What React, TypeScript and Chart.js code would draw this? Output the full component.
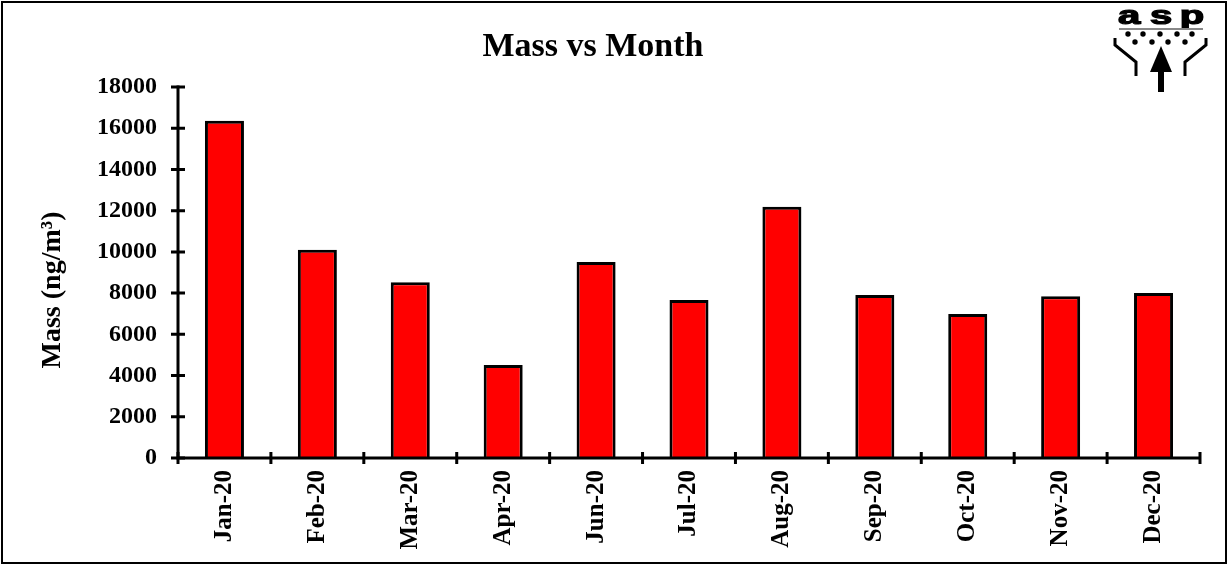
import React, { useEffect, useRef } from "react";
import { Chart, registerables } from "chart.js";

Chart.register(...registerables);

const months = ["Jan-20", "Feb-20", "Mar-20", "Apr-20", "Jun-20", "Jul-20", "Aug-20", "Sep-20", "Oct-20", "Nov-20", "Dec-20"];
const massValues = [16360, 10100, 8530, 4510, 9510, 7660, 12190, 7910, 6990, 7850, 8010];
const yTicks = [0, 2000, 4000, 6000, 8000, 10000, 12000, 14000, 16000, 18000];
const chartTitle = "Mass vs Month";
const yAxisTitle = "Mass (ng/m³)";
const logoText = ["a", "s", "p"];

const FONT = "'Liberation Serif', 'Times New Roman', serif";

const decorPlugin = {
  id: "decor",
  afterDatasetsDraw(chart: any) {
    const ctx = chart.ctx as CanvasRenderingContext2D;
    const area = chart.chartArea;
    const xs = chart.scales.x;
    const ys = chart.scales.y;
    ctx.save();
    ctx.strokeStyle = "#000";
    ctx.fillStyle = "#000";
    ctx.lineCap = "butt";
    // axes
    ctx.lineWidth = 3;
    const yTop = ys.getPixelForValue(yTicks[yTicks.length - 1]);
    const yBot = ys.getPixelForValue(0);
    ctx.beginPath();
    ctx.moveTo(area.left, yTop - 1.5);
    ctx.lineTo(area.left, yBot + 1.5);
    ctx.moveTo(area.left - 1.5, yBot);
    ctx.lineTo(area.right, yBot);
    ctx.stroke();
    // y ticks
    ctx.beginPath();
    yTicks.forEach((v) => {
      const y = ys.getPixelForValue(v);
      ctx.moveTo(area.left - 7, y);
      ctx.lineTo(area.left + 7, y);
    });
    // x ticks at boundaries
    for (let i = 0; i <= months.length; i++) {
      const x = xs.getPixelForValue(i - 0.5);
      ctx.moveTo(x, yBot - 6);
      ctx.lineTo(x, yBot + 6);
    }
    ctx.stroke();

    // title
    ctx.font = `bold 34px ${FONT}`;
    ctx.textAlign = "center";
    ctx.textBaseline = "middle";
    ctx.fillText(chartTitle, 593, 47);

    // y axis title
    ctx.save();
    ctx.translate(53, 290);
    ctx.rotate(-Math.PI / 2);
    ctx.font = `bold 28px ${FONT}`;
    ctx.fillText(yAxisTitle, 0, 0);
    ctx.restore();

    // logo
    ctx.save();
    ctx.font = `bold 25px 'Liberation Sans', Arial, sans-serif`;
    ctx.textBaseline = "alphabetic";
    ctx.lineWidth = 1.2;
    ctx.strokeStyle = "#000";
    const lx = [1129, 1161, 1192];
    logoText.forEach((t, i) => {
      ctx.save();
      ctx.translate(lx[i], 24);
      ctx.scale(1.6, 1.0);
      ctx.fillText(t, 0, 0);
      ctx.strokeText(t, 0, 0);
      ctx.restore();
    });
    ctx.restore();
    ctx.strokeStyle = "#888";
    ctx.lineWidth = 2;
    ctx.beginPath();
    ctx.moveTo(1119, 29);
    ctx.lineTo(1203, 29);
    ctx.stroke();
    const dots1 = [1128, 1143, 1160, 1177, 1192];
    const dots2 = [1135, 1152, 1168, 1185];
    dots1.forEach((x) => { ctx.beginPath(); ctx.arc(x, 34, 2.7, 0, Math.PI * 2); ctx.fill(); });
    dots2.forEach((x) => { ctx.beginPath(); ctx.arc(x, 42, 2.7, 0, Math.PI * 2); ctx.fill(); });
    ctx.strokeStyle = "#000";
    ctx.lineWidth = 3;
    ctx.beginPath();
    ctx.moveTo(1115, 38); ctx.lineTo(1115, 45); ctx.lineTo(1136, 62); ctx.lineTo(1136, 76);
    ctx.moveTo(1206, 38); ctx.lineTo(1206, 45); ctx.lineTo(1185, 62); ctx.lineTo(1185, 76);
    ctx.stroke();
    ctx.beginPath();
    ctx.moveTo(1161, 46); ctx.lineTo(1172, 72); ctx.lineTo(1150, 72); ctx.closePath(); ctx.fill();
    ctx.fillRect(1158, 70, 6, 22);
    ctx.restore();
  },
};

export default function App() {
  const ref = useRef<HTMLCanvasElement>(null);
  useEffect(() => {
    document.body.style.margin = "0";
    const chart = new Chart(ref.current!, {
      type: "bar",
      data: {
        labels: months,
        datasets: [
          {
            data: massValues,
            backgroundColor: "#FF0000",
            borderColor: "#000",
            borderWidth: 3,
            barPercentage: 0.42,
            categoryPercentage: 1,
          },
        ],
      },
      options: {
        animation: false,
        responsive: false,
        layout: { padding: { left: 0, right: 29, top: 87, bottom: 0 } },
        plugins: { legend: { display: false }, title: { display: false }, tooltip: { enabled: false } },
        scales: {
          x: {
            grid: { display: false, drawTicks: false },
            border: { display: false },
            ticks: {
              color: "#000",
              font: { family: FONT, size: 25, weight: "bold" },
              minRotation: 90,
              maxRotation: 90,
              padding: 12,
            },
            afterFit: (s: any) => { s.height = 108; },
          },
          y: {
            min: 0,
            max: 18000,
            afterBuildTicks: (s: any) => { s.ticks = yTicks.map((v) => ({ value: v })); },
            grid: { display: false, drawTicks: false },
            border: { display: false },
            ticks: {
              color: "#000",
              font: { family: FONT, size: 24, weight: "bold" },
              padding: 21,
              callback: (v: any) => String(v),
            },
            afterFit: (s: any) => { s.width = 178; },
          },
        },
      },
      plugins: [decorPlugin],
    });
    return () => chart.destroy();
  }, []);
  return (
    <div style={{ position: "relative", width: 1229, height: 566, background: "#fff" }}>
      <canvas ref={ref} width={1229} height={566} style={{ position: "absolute", left: 0, top: 0 }} />
      <div
        style={{
          position: "absolute",
          left: 1,
          top: 1,
          width: 1226,
          height: 563,
          border: "2px solid #000",
          boxSizing: "border-box",
          pointerEvents: "none",
        }}
      />
    </div>
  );
}
